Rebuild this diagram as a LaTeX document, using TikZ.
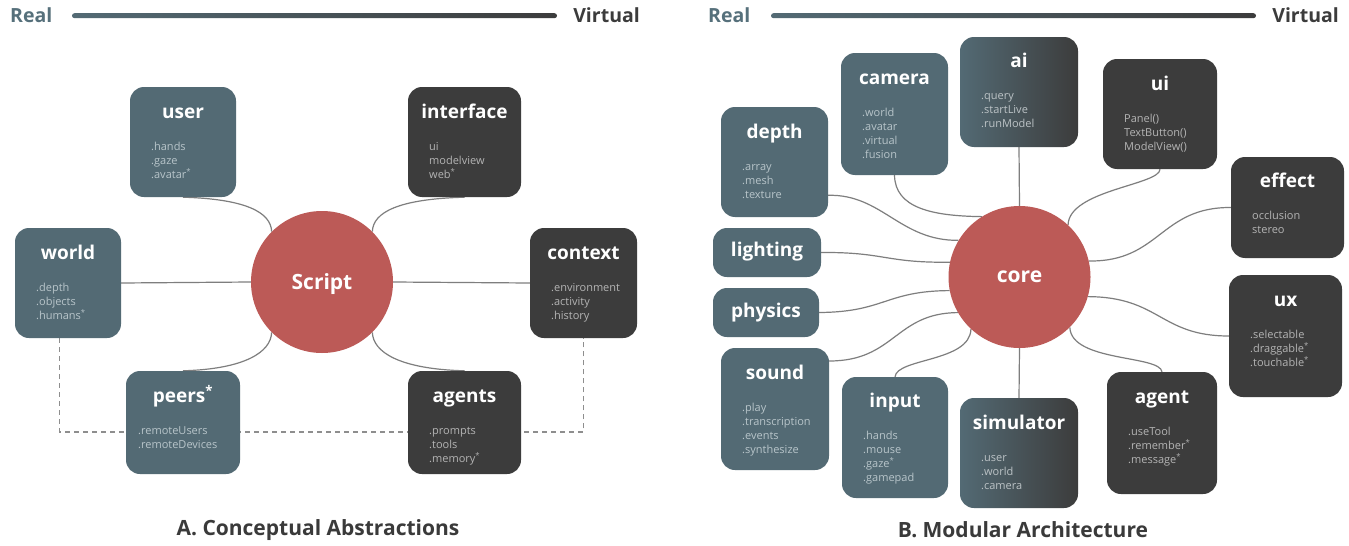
\documentclass[tikz,border=0pt]{standalone}
\usepackage{fontspec}
\setmainfont{Open Sans}
\usetikzlibrary{calc}
\definecolor{slate}{HTML}{536A74}
\definecolor{dark}{HTML}{3C3C3C}
\definecolor{coral}{HTML}{BC5A57}
\definecolor{itemS}{HTML}{B8C5CA}
\definecolor{itemD}{HTML}{B4B4B4}
\definecolor{itemG}{HTML}{BCC3C6}
\definecolor{wirec}{HTML}{7E7E7E}
\definecolor{dashc}{HTML}{8E8E8E}
\definecolor{realc}{HTML}{56707B}
\definecolor{capc}{HTML}{3A3A3A}
\pgfdeclarelayer{background}
\pgfsetlayers{background,main}
\newcommand\astr{\textsuperscript{*}}
\def\ioff{21}
% #1 name, #2 style, #3 left, #4 top, #5 right, #6 bottom, #7 title baseline, #8 title, #9 items
\newcommand\mkbox[9]{%
  \node[#2, minimum width={#5-#3}, minimum height={#6-#4}] (#1) at ({(#3+#5)/2},{(#4+#6)/2}) {};
  \node[ttl, anchor=base] (#1T) at ({(#3+#5)/2},#7) {#8};
  \node[#2items, anchor=north west] (#1I) at ({#3+\ioff},{#7+32-10}) {\rule{0pt}{10pt}#9};
}
\newcommand\mkplain[8]{%
  \node[#2, minimum width={#5-#3}, minimum height={#6-#4}] (#1) at ({(#3+#5)/2},{(#4+#6)/2}) {};
  \node[ttl, anchor=base] (#1T) at ({(#3+#5)/2},#7) {#8};
}
\begin{document}
\begin{tikzpicture}[x=1pt,y=-1pt,
  sbox/.style={fill=slate, rounded corners=14pt, inner sep=0pt},
  dbox/.style={fill=dark, rounded corners=14pt, inner sep=0pt},
  gbox/.style={left color=slate, right color=dark, rounded corners=14pt, inner sep=0pt},
  ttl/.style={text=white, font=\bfseries\fontsize{19}{22}\selectfont, inner sep=0pt},
  itemsbase/.style={font=\fontsize{11}{14}\selectfont, align=left, inner sep=0pt},
  sboxitems/.style={itemsbase, text=itemS},
  dboxitems/.style={itemsbase, text=itemD},
  gboxitems/.style={itemsbase, text=itemG},
  hub/.style={circle, fill=coral, minimum size=142pt, inner sep=0pt, text=white,
    font=\bfseries\fontsize{21}{24}\selectfont, text depth=0pt},
  wire/.style={draw=wirec, line width=1.2pt},
  dashline/.style={draw=dashc, line width=1.2pt, dash pattern=on 5pt off 4pt},
  hdr/.style={font=\bfseries\fontsize{19.5}{22}\selectfont, inner sep=0pt},
  captext/.style={font=\bfseries\fontsize{21}{24}\selectfont, text=capc, inner sep=0pt}
]
\useasboundingbox (0,0) rectangle (1349,546);

% ---------- headers ----------
\node[hdr, text=realc, anchor=base west] (realA) at (10,22.7) {Real};
\node[hdr, text=dark, anchor=base east] (virtA) at (640,22.7) {Virtual};
\coordinate (barA1) at (72,15.7);
\coordinate (barA2) at (557,15.7);
\shade[left color=slate, right color=dark, rounded corners=2.5pt]
  ($(barA1)+(0,-2.5)$) rectangle ($(barA2)+(0,2.5)$);
\node[hdr, text=realc, anchor=base west] (realB) at (708,22.7) {Real};
\node[hdr, text=dark, anchor=base east] (virtB) at (1339,22.7) {Virtual};
\coordinate (barB1) at (771,15.7);
\coordinate (barB2) at (1256,15.7);
\shade[left color=slate, right color=dark, rounded corners=2.5pt]
  ($(barB1)+(0,-2.5)$) rectangle ($(barB2)+(0,2.5)$);

% ---------- panel A ----------
\node[hub] (Script) at (322,282) {Script};
\mkbox{user}{sbox}{130}{87}{236}{197}{118}{user}{.hands\\.gaze\\.avatar\astr}
\mkbox{interface}{dbox}{408}{87}{521}{197}{118}{interface}{ui\\modelview\\web\astr}
\mkbox{world}{sbox}{15}{228}{121}{338}{259}{world}{.depth\\.objects\\.humans\astr}
\mkbox{context}{dbox}{530}{228}{637}{338}{259}{context}{.environment\\.activity\\.history}
\def\ioff{12}
\mkbox{peers}{sbox}{126}{371}{240}{474}{402}{peers\textsuperscript{*}}{.remoteUsers\\.remoteDevices}
\def\ioff{21}
\mkbox{agents}{dbox}{408}{371}{521}{474}{402}{agents}{.prompts\\.tools\\.memory\astr}
\node[captext, anchor=base] (capA) at (318,535) {A. Conceptual Abstractions};

% ---------- panel B ----------
\node[hub] (core) at (1019.5,277) {core};
\mkbox{camera}{sbox}{841}{53}{948}{175}{84}{camera}{.world\\.avatar\\.virtual\\.fusion}
\mkbox{ai}{gbox}{960}{37}{1078}{147}{67}{ai}{.query\\.startLive\\.runModel}
\mkbox{ui}{dbox}{1103}{59}{1217}{169}{90}{ui}{Panel()\\TextButton()\\ModelView()}
\mkbox{depth}{sbox}{721}{107}{828}{217}{138}{depth}{.array\\.mesh\\.texture}
\mkbox{effect}{dbox}{1231}{157}{1344}{258}{187}{effect}{occlusion\\stereo}
\mkplain{lighting}{sbox}{713}{228}{821}{277}{256}{lighting}
\mkplain{physics}{sbox}{713}{288}{819}{337}{317}{physics}
\mkbox{ux}{dbox}{1229}{275}{1342}{397}{306}{ux}{.selectable\\.draggable\astr\\.touchable\astr}
\mkbox{sound}{sbox}{721}{348}{829}{470}{379}{sound}{.play\\.transcription\\.events\\.synthesize}
\mkbox{input}{sbox}{842}{377}{948}{498}{407}{input}{.hands\\.mouse\\.gaze\astr\\.gamepad}
\mkbox{simulator}{gbox}{960}{398}{1078}{508}{429}{simulator}{.user\\.world\\.camera}
\mkbox{agent}{dbox}{1107}{372}{1217}{494}{403}{agent}{.useTool\\.remember\astr\\.message\astr}
\node[captext, anchor=base] (capB) at (1023,537) {B. Modular Architecture};

% ---------- connectors ----------
\begin{pgfonlayer}{background}
\fill[white] (0,0) rectangle (1349,546);
\draw[wire] (world.east) -- (Script.west);
\draw[wire] (context.west) -- (Script.east);
\draw[wire] (user.south) .. controls (245,199) and (271,212) .. (Script.135);
\draw[wire] (interface.south) .. controls (399,199) and (373,212) .. (Script.45);
\draw[wire] (peers.north) .. controls (245,369) and (271,352) .. (Script.225);
\draw[wire] (agents.north) .. controls (399,369) and (373,352) .. (Script.315);
\draw[dashline] ([xshift=-8.3pt]world.south) -- ++(0,93.7) -| (context.south);

\draw[wire] (ai.south) -- (core.north);
\draw[wire] (simulator.north) -- (core.south);
\draw[wire] (camera.south) .. controls (895,208) and (932,216) .. (core.122);
\draw[wire] ([yshift=-33.3pt]depth.east) .. controls (882,194) and (900,241) .. (core.149);
\draw[wire] (lighting.east) .. controls (885,252) and (885,263) .. (core.168);
\draw[wire] (physics.east) .. controls (885,312) and (885,291) .. (core.191);
\draw[wire] ([yshift=48pt]sound.east) .. controls (895,361) and (895,313) .. (core.210);
\draw[wire] (input.north) .. controls (897,358) and (970,362) .. (core.227);
\draw[wire] (ui.south) .. controls (1160,185) and (1069,190) .. (core.47);
\draw[wire] (effect.west) .. controls (1160,207) and (1160,262) .. (core.13);
\draw[wire] (ux.west) .. controls (1160,336) and (1160,297) .. (core.344);
\draw[wire] (agent.north) .. controls (1160,355) and (1071,362) .. (core.315);
\end{pgfonlayer}
\end{tikzpicture}
\end{document}
